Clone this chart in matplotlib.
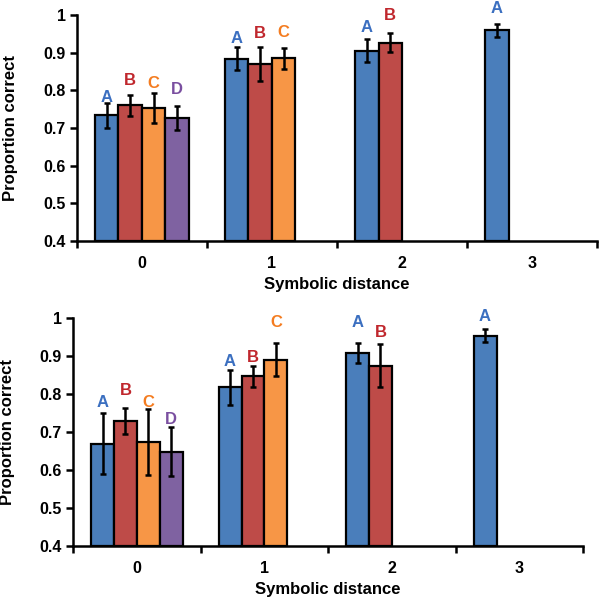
import matplotlib
matplotlib.use('Agg')

import matplotlib.pyplot as plt
import numpy as np

plt.rcParams.update({
    'font.family': ['Liberation Sans', 'DejaVu Sans'],
    'font.weight': 'bold',
    'font.size': 11.5,
})

BAR_CLRS = ["#4a7ebb", "#be4b48", "#f79646", "#7f62a1"]
TXT_CLRS = ["#3b6fc0", "#c0272d", "#f47c20", "#7a4fa0"]
BAR_W = 0.18

distances = ["0", "1", "2", "3"]
series = ["A", "B", "C", "D"]

# top panel: mean per series (rows = A..D, cols = distance 0..3), nan = no bar
top_vals = [
    [0.734, 0.884, 0.905, 0.959],
    [0.760, 0.871, 0.926, np.nan],
    [0.752, 0.885, np.nan, np.nan],
    [0.727, np.nan, np.nan, np.nan],
]
top_err = [
    [0.033, 0.030, 0.031, 0.017],
    [0.028, 0.045, 0.025, np.nan],
    [0.040, 0.028, np.nan, np.nan],
    [0.032, np.nan, np.nan, np.nan],
]
top_lbl_y = [
    [0.782, 0.938, 0.967, 1.017],
    [0.825, 0.951, 0.998, np.nan],
    [0.819, 0.954, np.nan, np.nan],
    [0.803, np.nan, np.nan, np.nan],
]

bot_vals = [
    [0.669, 0.817, 0.908, 0.953],
    [0.729, 0.846, 0.874, np.nan],
    [0.673, 0.890, np.nan, np.nan],
    [0.648, np.nan, np.nan, np.nan],
]
bot_err = [
    [0.081, 0.046, 0.027, 0.017],
    [0.034, 0.028, 0.056, np.nan],
    [0.087, 0.044, np.nan, np.nan],
    [0.064, np.nan, np.nan, np.nan],
]
bot_lbl_y = [
    [0.776, 0.886, 0.987, 1.004],
    [0.808, 0.895, 0.962, np.nan],
    [0.778, 0.987, np.nan, np.nan],
    [0.732, np.nan, np.nan, np.nan],
]


def draw_panel(ax, vals, errs, lbl_y):
    x = np.arange(len(distances))
    for i, s in enumerate(series):
        v = np.array(vals[i], dtype=float)
        e = np.array(errs[i], dtype=float)
        ok = ~np.isnan(v)
        xs = x[ok] + (i - 1.5) * BAR_W
        ax.bar(xs, v[ok] - 0.4, BAR_W, bottom=0.4, color=BAR_CLRS[i],
               edgecolor='black', linewidth=1.6, zorder=3)
        ax.errorbar(xs, v[ok], yerr=e[ok], fmt='none', ecolor='black',
                    elinewidth=1.8, capsize=2.5, capthick=1.8, zorder=4)
        for xx, yy in zip(xs, np.array(lbl_y[i], dtype=float)[ok]):
            ax.text(xx, yy, s, ha='center', va='center', color=TXT_CLRS[i],
                    fontsize=12, fontweight='bold', clip_on=False)
    ax.set_xlim(-0.5, len(distances) - 0.5)
    ax.set_ylim(0.4, 1.0)
    ax.set_yticks([0.4, 0.5, 0.6, 0.7, 0.8, 0.9, 1.0])
    ax.set_yticklabels(["0.4", "0.5", "0.6", "0.7", "0.8", "0.9", "1"])
    ax.set_xticks(x)
    ax.set_xticklabels(distances)
    ax.set_xticks(np.arange(-0.5, len(distances)), minor=True)
    ax.tick_params(axis='x', which='major', length=0, pad=11)
    ax.tick_params(axis='x', which='minor', length=5, width=1.8, direction='out')
    ax.tick_params(axis='y', length=5, width=1.8, direction='out', pad=3)
    for sp in ['top', 'right']:
        ax.spines[sp].set_visible(False)
    for sp in ['left', 'bottom']:
        ax.spines[sp].set_linewidth(1.8)
    ax.set_ylabel("Proportion correct", fontsize=12, fontweight='bold', labelpad=18)
    ax.set_xlabel("Symbolic distance", fontsize=12, fontweight='bold', labelpad=4)


fig = plt.figure(figsize=(6, 5.98), dpi=100)
ax1 = fig.add_axes([0.128, 0.597, 0.867, 0.378])
ax2 = fig.add_axes([0.122, 0.0875, 0.850, 0.381])
draw_panel(ax1, top_vals, top_err, top_lbl_y)
draw_panel(ax2, bot_vals, bot_err, bot_lbl_y)

plt.savefig("out.png", dpi=100)
plt.close()
